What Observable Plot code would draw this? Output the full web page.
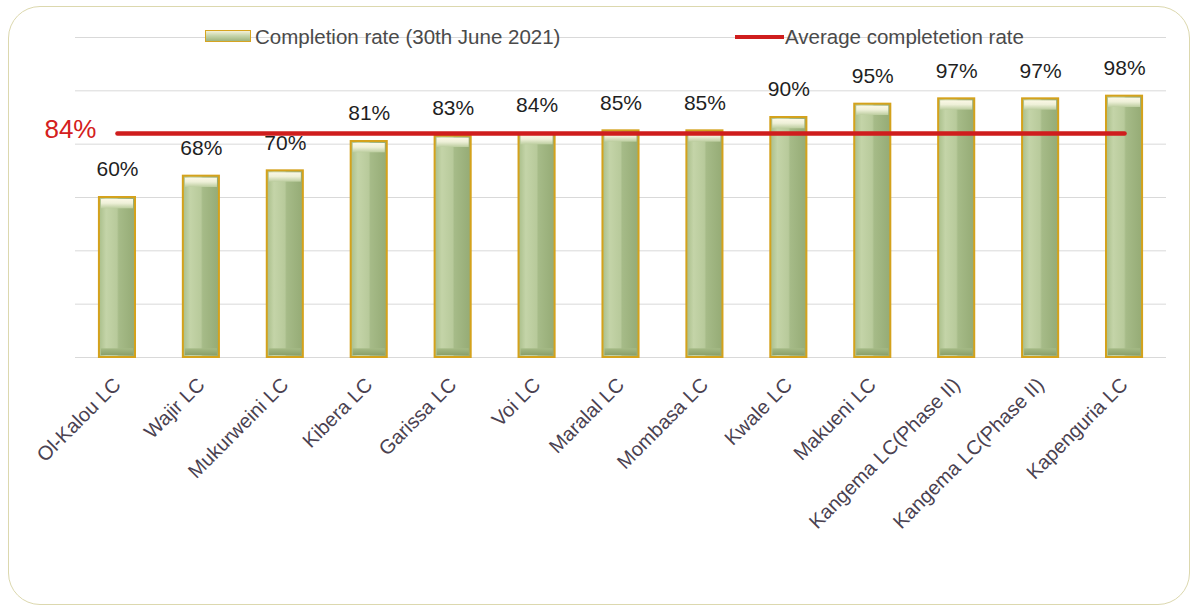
<!DOCTYPE html>
<html>
<head>
<meta charset="utf-8">
<script src="https://cdn.jsdelivr.net/npm/d3@7"></script>
<script src="https://cdn.jsdelivr.net/npm/@observablehq/plot@0.6"></script>
<style>
  html, body { margin: 0; padding: 0; background: #fff; }
  #wrap { position: relative; width: 1195px; height: 609px; overflow: hidden; font-family: "Liberation Sans", Arial, sans-serif; }
  #frame { position: absolute; left: 8px; top: 6px; width: 1180px; height: 597px; border: 1.5px solid #dcd8ae; border-radius: 32px; pointer-events: none; }
  .leg { position: absolute; font-size: 20.5px; color: #4a4a4a; line-height: 22px; white-space: nowrap; }
  .sw1 { position: absolute; left: 205px; top: 30px; width: 44px; height: 10px; border: 1.5px solid #d6a421;
         background: linear-gradient(180deg, #f3f1d8 0%, #c8d6ad 45%, #9fb47f 100%); }
  .sw2 { position: absolute; left: 735px; top: 35px; width: 49px; height: 4px; background: #cf1d1d; }
</style>
</head>
<body>
<div id="wrap">
  <div id="chart"></div>
  <div class="sw1"></div>
  <div class="leg" style="left:255px; top:26px;">Completion rate (30th June 2021)</div>
  <div class="sw2"></div>
  <div class="leg" style="left:785px; top:26px;">Average completetion rate</div>
  <div id="frame"></div>
</div>
<script>
const centres = ["Ol-Kalou LC", "Wajir LC", "Mukurweini LC", "Kibera LC", "Garissa LC", "Voi LC",
  "Maralal LC", "Mombasa LC", "Kwale LC", "Makueni LC", "Kangema LC(Phase II)", "Kangema LC(Phase II) ", "Kapenguria LC"];
const completion = [60, 68, 70, 81, 83, 84, 85, 85, 90, 95, 97, 97, 98];
const averageRate = 84;
const gridTicks = [0, 20, 40, 60, 80, 100, 120];

const data = centres.map((c, i) => ({centre: c, rate: completion[i]}));

const chart = Plot.plot({
  width: 1195,
  height: 609,
  marginLeft: 75,
  marginRight: 29,
  marginTop: 37,
  marginBottom: 252,
  style: {fontFamily: "Liberation Sans, Arial, sans-serif", background: "transparent"},
  x: {domain: centres, paddingInner: 0.57, paddingOuter: 0.285, round: false, label: null},
  y: {domain: [0, 120], label: null},
  marks: [
    Plot.ruleY(gridTicks, {stroke: "#d9d9d9", strokeWidth: 1}),
    Plot.barY(data, {x: "centre", y: "rate", fill: "url(#barGrad)", stroke: "#d4a21c", strokeWidth: 2}),
    Plot.barY(data, {x: "centre", y1: d => d.rate - 5, y2: "rate", fill: "url(#capGrad)", inset: 2}),
    Plot.barY(data, {x: "centre", y1: 0, y2: 4, fill: "url(#baseGrad)", inset: 2}),
    Plot.lineY(data, {x: "centre", y: () => averageRate, stroke: "#cf1d1d", strokeWidth: 4.5}),
    Plot.text([averageRate], {y: d => d, frameAnchor: "left", text: d => d + "%", textAnchor: "end", dx: 21, dy: -4,
      fill: "#d42020", fontSize: 26}),
    Plot.text(data, {x: "centre", y: "rate", text: d => d.rate + "%", dy: -28, fontSize: 21, fill: "#1f1f1f"}),
    Plot.axisX({tickSize: 0, tickRotate: -45, tickPadding: 24, fontSize: 20, fill: "#4a4150",
      tickFormat: d => d.trim()}),
    Plot.axisY({ticks: [], tickSize: 0, label: null})
  ]
});

// gradients for the bevelled bars
const defs = d3.select(chart).insert("defs", ":first-child");
const g = defs.append("linearGradient").attr("id", "barGrad").attr("x1", "0").attr("x2", "1").attr("y1", "0").attr("y2", "0");
[[0, "#a9be8a"], [0.2, "#c4d4a8"], [0.5, "#b8ca9b"], [0.55, "#a6bb88"], [1, "#95ab75"]].forEach(([o, c]) =>
  g.append("stop").attr("offset", o).attr("stop-color", c));
const c = defs.append("linearGradient").attr("id", "capGrad").attr("x1", "0").attr("x2", "0").attr("y1", "0").attr("y2", "1");
[[0, "#fbf8e6"], [0.45, "#eef0d8"], [1, "#bccd9f"]].forEach(([o, col]) =>
  c.append("stop").attr("offset", o).attr("stop-color", col));
const b = defs.append("linearGradient").attr("id", "baseGrad").attr("x1", "0").attr("x2", "0").attr("y1", "0").attr("y2", "1");
[[0, "#a5ba86"], [1, "#8aa06a"]].forEach(([o, col]) =>
  b.append("stop").attr("offset", o).attr("stop-color", col));

document.getElementById("chart").appendChild(chart);
</script>
</body>
</html>
